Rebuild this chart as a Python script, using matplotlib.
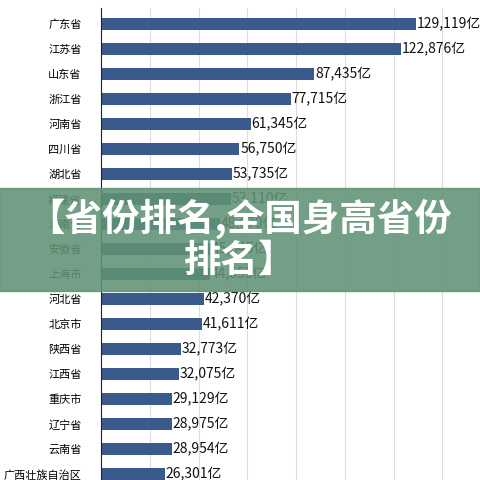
import matplotlib.pyplot as plt
from matplotlib.patches import Rectangle

plt.rcParams['font.family'] = ['Noto Sans CJK SC', 'DejaVu Sans']

provinces = ['广东省', '江苏省', '山东省', '浙江省', '河南省', '四川省', '湖北省', '福建省',
             '湖南省', '安徽省', '上海市', '河北省', '北京市', '陕西省', '江西省', '重庆市',
             '辽宁省', '云南省', '广西壮族自治区']
gdp = [129119, 122876, 87435, 77715, 61345, 56750, 53735, 53110,
       48670, 45045, 44653, 42370, 41611, 32773, 32075, 29129,
       28975, 28954, 26301]

fig = plt.figure(figsize=(4.8, 4.8), dpi=100)
ax = fig.add_axes([101 / 480, (480 - 486.5) / 480, 400 / 480, 478.5 / 480])
y = list(range(len(provinces)))
ax.barh(y, gdp, height=0.46, color='#3b5a8c', zorder=2)
for yi, v in zip(y, gdp):
    ax.text(v + 300, yi, f'{v:,}亿', va='center', ha='left', fontsize=10, color='#111111')
ax.set_ylim(18.5, -0.64)
ax.set_xlim(0, 164000)
ax.set_yticks(y)
ax.set_yticklabels(provinces, fontsize=8)
ax.tick_params(axis='y', length=0, pad=14)
ax.set_xticks(range(20000, 164000, 20000))
ax.tick_params(axis='x', length=0, labelbottom=False)
ax.grid(axis='x', color='#dddddd', linewidth=0.8, zorder=0)
for s in ['top', 'right', 'bottom']:
    ax.spines[s].set_visible(False)
ax.spines['left'].set_color('#222222')

# overlay banner
fig.patches.append(Rectangle((0, 1 - 291 / 480), 1, 103 / 480, transform=fig.transFigure,
                             color='#5f9274', alpha=0.88, zorder=5))
fig.text(0.5, 1 - 239 / 480, '【省份排名,全国身高省份\n排名】', ha='center', va='center',
         fontsize=27, fontweight='bold', color='white', zorder=6, linespacing=1.05)

fig.savefig('out.png', dpi=100)
